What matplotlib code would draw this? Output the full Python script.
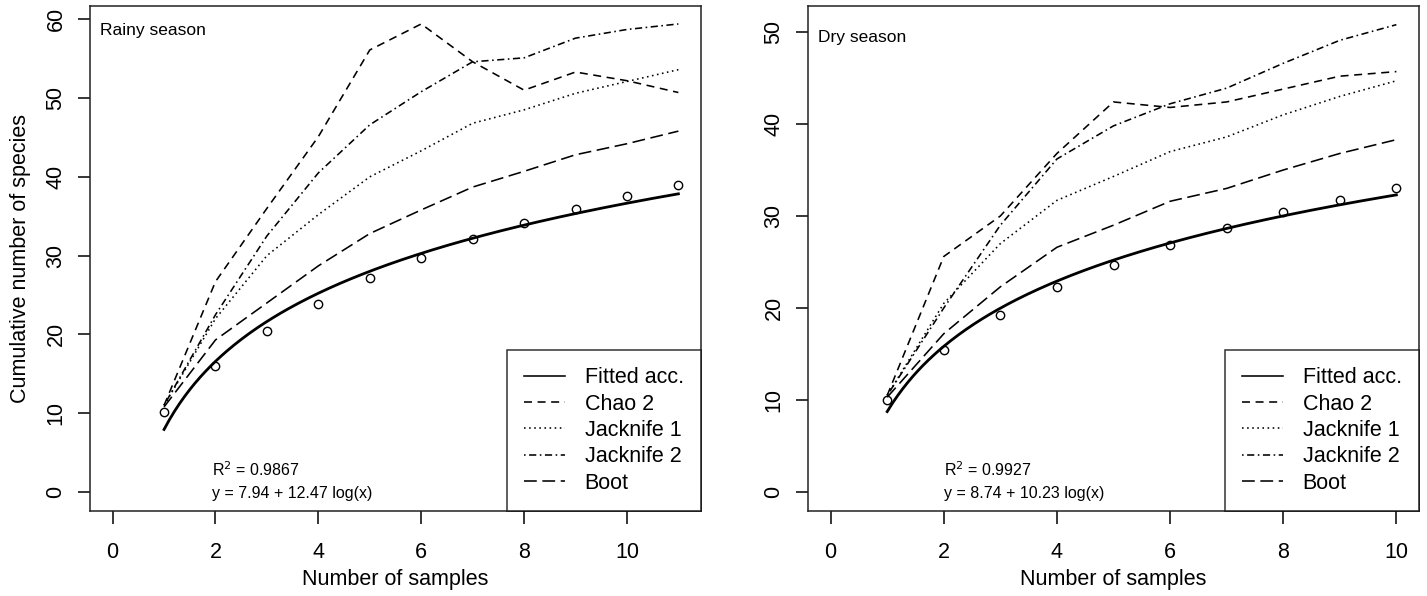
import numpy as np
import matplotlib.pyplot as plt
from matplotlib.lines import Line2D

plt.rcParams['font.family'] = ['Liberation Sans', 'DejaVu Sans']

# rainy season (11 samples)
x_rainy = [1, 2, 3, 4, 5, 6, 7, 8, 9, 10, 11]
obs_rainy = [10.1, 16.0, 20.4, 23.9, 27.1, 29.7, 32.1, 34.2, 35.9, 37.6, 39.0]
chao_rainy = [11.0, 26.7, 36.0, 45.1, 56.1, 59.4, 54.6, 51.0, 53.3, 52.2, 50.7]
jack1_rainy = [11.0, 22.0, 30.0, 35.2, 40.0, 43.3, 46.8, 48.5, 50.6, 52.1, 53.6]
jack2_rainy = [11.0, 22.5, 32.5, 40.5, 46.6, 50.8, 54.6, 55.1, 57.6, 58.7, 59.4]
boot_rainy = [10.8, 19.3, 24.0, 28.7, 32.8, 35.8, 38.7, 40.7, 42.8, 44.2, 45.8]
fit_rainy = (7.94, 12.47)
r2_rainy = 0.9867

# dry season (10 samples)
x_dry = [1, 2, 3, 4, 5, 6, 7, 8, 9, 10]
obs_dry = [10.0, 15.4, 19.2, 22.3, 24.7, 26.8, 28.7, 30.4, 31.7, 33.0]
chao_dry = [10.5, 25.6, 30.0, 36.8, 42.4, 41.8, 42.4, 43.8, 45.2, 45.7]
jack1_dry = [10.5, 20.5, 27.0, 31.7, 34.3, 37.0, 38.6, 41.0, 43.0, 44.7]
jack2_dry = [10.5, 20.0, 29.0, 36.2, 39.8, 42.2, 43.9, 46.6, 49.1, 50.8]
boot_dry = [10.3, 17.2, 22.3, 26.6, 29.0, 31.6, 33.0, 35.0, 36.8, 38.3]
fit_dry = (8.74, 10.23)
r2_dry = 0.9927

labels = ['Fitted acc.', 'Chao 2', 'Jacknife 1', 'Jacknife 2', 'Boot']
styles = [None, (5, 3.5), (1.0, 2.2), (1.0, 2.2, 4.5, 2.2), (8, 3.5)]

W, H = 1427, 596
fig = plt.figure(figsize=(W / 100, H / 100), dpi=100)


def panel(rect, x, obs, chao, jack1, jack2, boot, fit, r2, title, title_y,
          xlim, ylim, yticks, note_x):
    ax = fig.add_axes(rect)
    a, b = fit
    xs = np.linspace(x[0], x[-1], 200)
    ax.plot(xs, a + b * np.log(xs), color='black', lw=2.0)
    for series, d in zip([chao, jack1, jack2, boot], styles[1:]):
        ax.plot(x, series, color='black', lw=1.15, dashes=d)
    ax.plot(x, obs, 'o', mfc='none', mec='black', ms=6, mew=1.0)

    ax.set_xlim(*xlim)
    ax.set_ylim(*ylim)
    ax.set_xticks([0, 2, 4, 6, 8, 10])
    ax.set_yticks(yticks)
    ax.tick_params(direction='out', length=9, width=1.1, labelsize=15.5)
    ax.tick_params(axis='x', pad=13)
    ax.tick_params(axis='y', pad=8)
    plt.setp(ax.get_yticklabels(), rotation=90, va='center')
    for s in ax.spines.values():
        s.set_linewidth(1.1)
        s.set_color('#222222')

    ax.set_xlabel('Number of samples', fontsize=15.5, labelpad=5)

    ax.text(0.016, title_y, title, transform=ax.transAxes, fontsize=12.5,
            ha='left', va='center')
    ax.text(note_x, 0.081, r'R$^2$ = %.4f' % r2, transform=ax.transAxes,
            fontsize=11.5, ha='left', va='center')
    ax.text(note_x, 0.035, 'y = %.2f + %.2f log(x)' % (a, b),
            transform=ax.transAxes, fontsize=11.5, ha='left', va='center')

    handles = []
    for d in styles:
        if d is None:
            handles.append(Line2D([], [], color='black', lw=1.15))
        else:
            handles.append(Line2D([], [], color='black', lw=1.15, dashes=d))
    leg = ax.legend(handles, labels, loc='lower right', bbox_to_anchor=(1, 0),
                    borderaxespad=0, fontsize=15.5, frameon=True, fancybox=False,
                    handlelength=1.9, handletextpad=0.9, labelspacing=0.25,
                    borderpad=0.8)
    leg.get_frame().set_edgecolor('black')
    leg.get_frame().set_linewidth(1.1)
    return ax


ax1 = panel([90 / W, 85 / H, 611 / W, 505 / H], x_rainy, obs_rainy, chao_rainy,
            jack1_rainy, jack2_rainy, boot_rainy, fit_rainy, r2_rainy,
            'Rainy season', 0.952, (-0.44, 11.44), (-2.41, 61.68),
            [0, 10, 20, 30, 40, 50, 60], 0.2)
ax1.set_ylabel('Cumulative number of species', fontsize=15.5, labelpad=10)

ax2 = panel([808 / W, 85 / H, 611 / W, 505 / H], x_dry, obs_dry, chao_dry,
            jack1_dry, jack2_dry, boot_dry, fit_dry, r2_dry,
            'Dry season', 0.937, (-0.4, 10.4), (-2.07, 52.83),
            [0, 10, 20, 30, 40, 50], 0.222)

fig.savefig('out.png', dpi=100)
